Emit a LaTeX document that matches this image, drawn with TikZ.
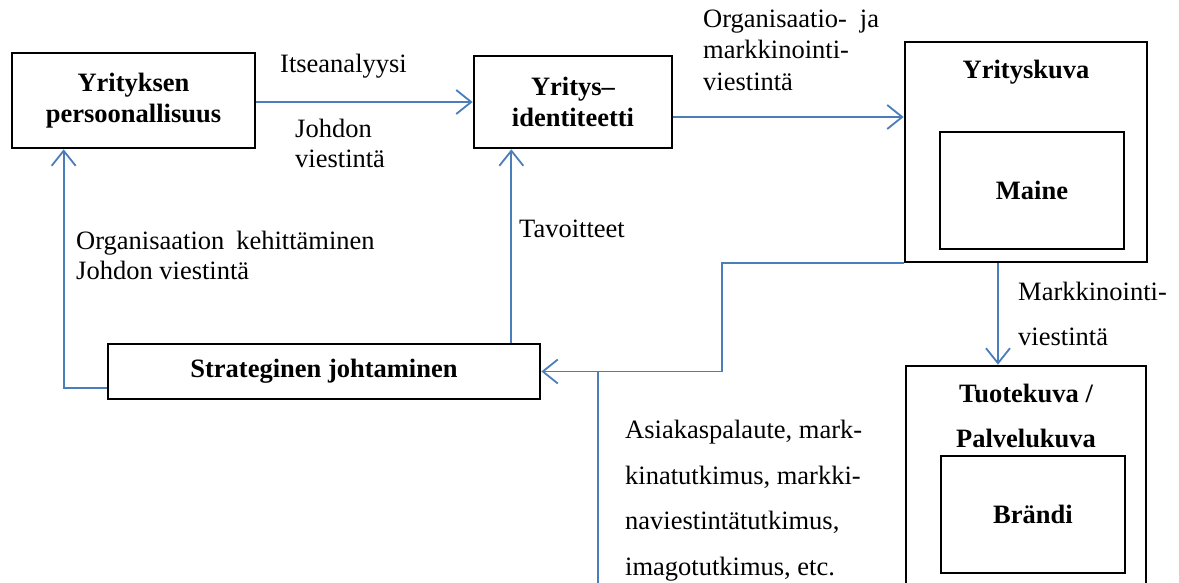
\documentclass[tikz,border=0pt]{standalone}
\usepackage{fontspec}
\setmainfont{Liberation Serif}
\usetikzlibrary{arrows.meta,calc}
\definecolor{lnblue}{HTML}{4A7EBB}
\begin{document}
\begin{tikzpicture}[x=1pt,y=-1pt,
  box/.style={draw=black,line width=2.7pt,inner sep=0pt,align=center,
    font=\fontsize{26.5}{31}\selectfont\bfseries},
  innerbox/.style={draw=black,line width=1.5pt,inner sep=0pt,align=center,
    font=\fontsize{26.5}{31}\selectfont\bfseries},
  btitle/.style={anchor=base,inner sep=0pt,align=center,
    font=\fontsize{26.5}{45}\selectfont\bfseries},
  conn/.style={draw=lnblue,line width=1.8pt},
  arr/.style={conn,-{Straight Barb[length=15pt,width=24pt]}},
  lbl/.style={anchor=base west,inner sep=0pt,align=left,
    font=\fontsize{26.5}{30}\selectfont},
  lblwide/.style={lbl,font=\fontsize{26.5}{45.5}\selectfont}]
\clip (0,0) rectangle (1179,582);
\fill[white] (0,0) rectangle (1179,582);
% boxes
\node[box,minimum width=243pt,minimum height=95pt] (p) at (133.5,100.5) {Yrityksen\\persoonallisuus};
\node[box,minimum width=198pt,minimum height=92pt] (id) at (573,102) {Yritys–\\identiteetti};
\node[box,minimum width=242pt,minimum height=220pt] (yk) at (1026,152) {};
\node[btitle] (ykt) at (1026,78) {Yrityskuva};
\node[innerbox,minimum width=184pt,minimum height=117pt] (mai) at (1032,190.5) {Maine};
\node[box,minimum width=432pt,minimum height=55pt] (sj) at (324,371.5) {Strateginen johtaminen};
\node[box,minimum width=240pt,minimum height=254pt] (tk) at (1026,493) {};
\node[btitle] (tkt) at (1026,447) {Tuotekuva /\\Palvelukuva};
\node[innerbox,minimum width=184pt,minimum height=117pt] (br) at (1033,514.5) {Brändi};
% labels (anchor = baseline of the last line)
\node[lbl] (l1) at (280,72) {Itseanalyysi};
\node[lbl] (l2) at (295,167) {Johdon\\viestintä};
\node[lbl,font=\fontsize{26.5}{31.5}\selectfont] (l3) at (703,90) {Organisaatio-\hspace{13pt}ja\\markkinointi-\\viestintä};
\node[lbl] (l4) at (519,237) {Tavoitteet};
\node[lbl] (l5) at (76,279) {Organisaation\hspace{12pt}kehittäminen\\Johdon viestintä};
\node[lbl,font=\fontsize{26.5}{45}\selectfont] (l6) at (1018,345) {Markkinointi-\\viestintä};
\node[lblwide] (l7) at (625,575) {Asiakaspalaute, mark-\\kinatutkimus, markki-\\naviestintätutkimus,\\imagotutkimus, etc.};
% connectors
\coordinate (bot) at (598,590);
\draw[arr] (p.east |- 0,102) -- (id.west |- 0,102);
\draw[arr] ([yshift=-15pt]id.east) -- ([yshift=-15pt]id.east -| yk.west);
\draw[arr] ([yshift=-16.5pt]sj.west) -| ([xshift=53pt]p.south west);
\draw[arr] ([xshift=-30pt]sj.north east) -- ([xshift=-30pt]sj.north east |- id.south);
\draw[arr] (yk.south west) -- ++(-182,0) |- (sj.east);
\draw[conn] (bot) -- (bot |- sj.east);
\draw[arr] ([xshift=-28pt]yk.south) -- ([xshift=-28pt]yk.south |- tk.north);
\end{tikzpicture}
\end{document}
